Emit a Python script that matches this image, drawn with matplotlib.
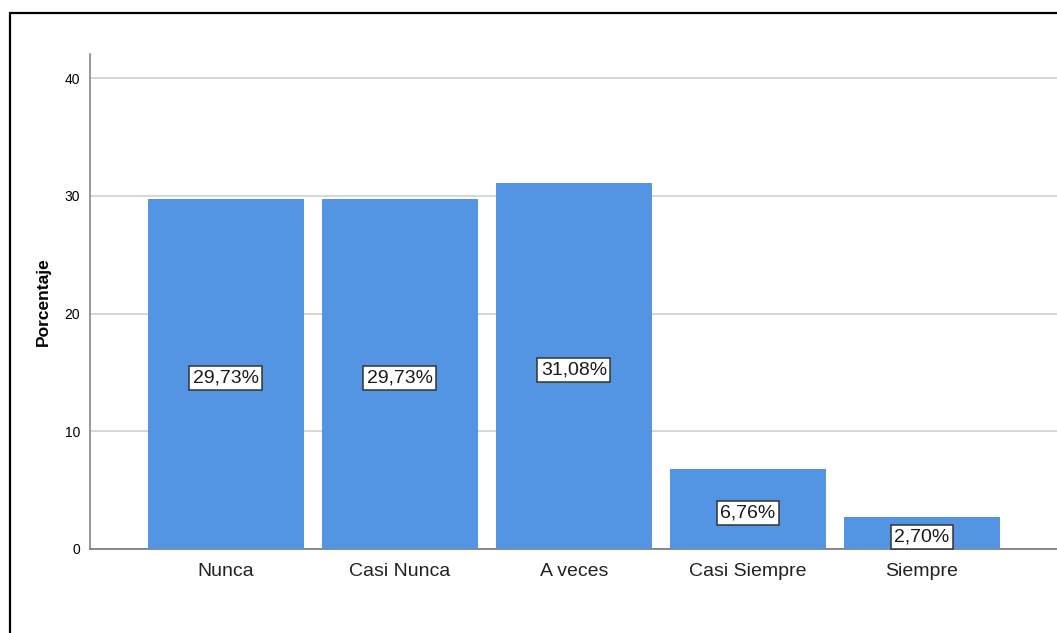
import matplotlib.pyplot as plt
from matplotlib.patches import Rectangle

categories = ["Nunca", "Casi Nunca", "A veces", "Casi Siempre", "Siempre"]
percentages = [29.73, 29.73, 31.08, 6.76, 2.70]
labels = ["29,73%", "29,73%", "31,08%", "6,76%", "2,70%"]

plt.rcParams['font.family'] = ['Liberation Sans', 'DejaVu Sans']

fig = plt.figure(figsize=(10.57, 6.33), dpi=100)
ax = fig.add_axes([90 / 1057, 84 / 633, 967 / 1057, 495 / 633])

# outer frame of the output window
fig.patches.append(Rectangle((9.5 / 1057, -0.1), 1.2, 1 - 13.5 / 633 + 0.1,
                             transform=fig.transFigure, fill=False,
                             edgecolor="black", linewidth=1.6))

x = range(len(categories))
ax.bar(x, percentages, width=0.897, color="#5495e3", zorder=3)

for i, (v, lab) in enumerate(zip(percentages, labels)):
    ax.annotate(lab, (i, v / 2), xytext=(0, -3), textcoords="offset points",
                ha="center", va="center", fontsize=14, zorder=4, color="#1a1a1a",
                bbox=dict(boxstyle="square,pad=0.18", facecolor="white",
                          edgecolor="#333333", linewidth=1.1))

ax.set_xlim(-0.78, 4.776)
ax.set_ylim(0, 42.04)
ax.set_yticks([0, 10, 20, 30, 40])
ax.set_xticks(list(x))
ax.set_xticklabels(categories, fontsize=14, color="#222222")
ax.tick_params(axis="y", labelsize=10, length=0, pad=7)
ax.tick_params(axis="x", length=0, pad=10)
ax.yaxis.grid(True, color="#d0d0d0", linewidth=1.2, zorder=0)
ax.set_axisbelow(True)

for s in ["top", "right"]:
    ax.spines[s].set_visible(False)
ax.spines["left"].set_color("#888888")
ax.spines["bottom"].set_color("#777777")
ax.spines["left"].set_linewidth(1.2)
ax.spines["bottom"].set_linewidth(1.2)

ax.set_ylabel("Porcentaje", fontsize=12.5, fontweight="bold", labelpad=10)

fig.savefig("out.png", dpi=100)
